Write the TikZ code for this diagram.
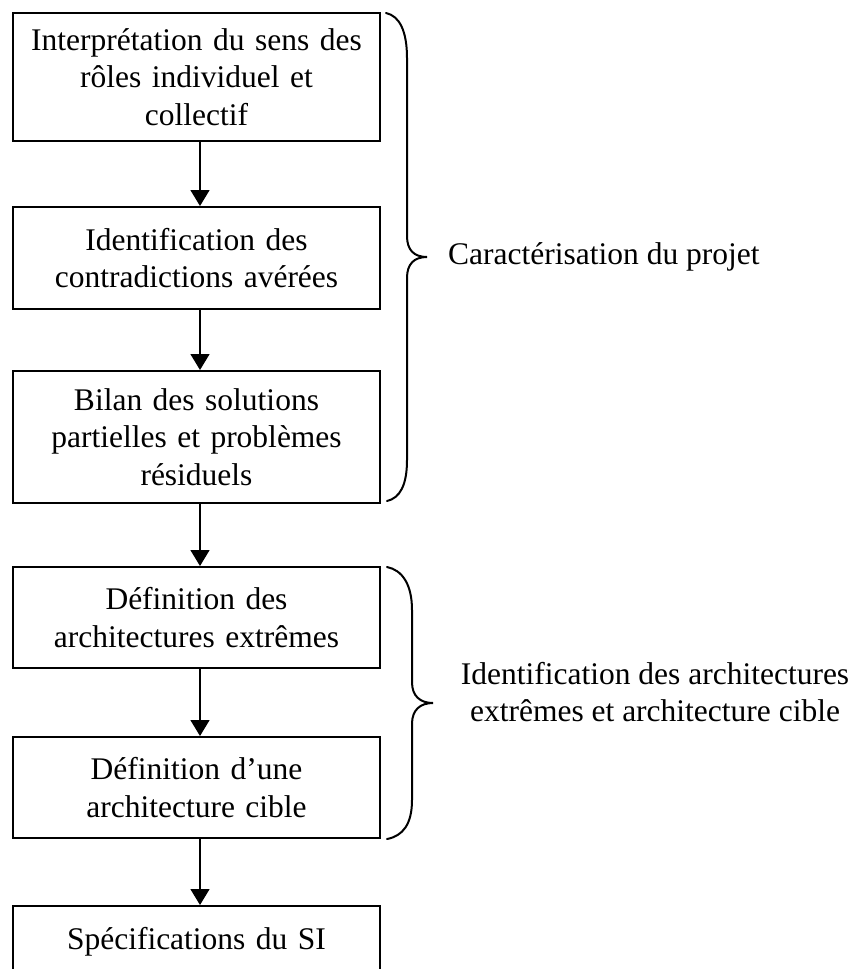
\documentclass[tikz,border=0pt]{standalone}
\usepackage{fontspec}
\setmainfont{Liberation Serif}
\usetikzlibrary{arrows.meta}
\begin{document}
\begin{tikzpicture}[x=1pt,y=-1pt,
  stepbox/.style={draw=black, line width=2pt, rectangle, minimum width=367pt,
    inner sep=0pt, text width=350pt, align=center,
    font=\fontsize{31.5}{37.5}\selectfont},
  conn/.style={line width=1.5pt, -{Triangle[width=19pt,length=16pt]}},
  bracepath/.style={line width=2pt, line cap=round},
  lbl/.style={inner sep=0pt, align=center, font=\fontsize{31.5}{37.5}\selectfont}]
\useasboundingbox (0,0) rectangle (854,969);
\clip (0,0) rectangle (854,969);
\fill[white] (0,0) rectangle (854,969);

\node[stepbox, minimum height=128pt] (n1) at (196.5,77)
  {Interprétation du sens des\\rôles individuel et\\collectif};
\node[stepbox, minimum height=102pt] (n2) at (196.5,258)
  {Identification des\\contradictions avérées};
\node[stepbox, minimum height=132pt] (n3) at (196.5,437)
  {Bilan des solutions\\partielles et problèmes\\résiduels};
\node[stepbox, minimum height=101pt] (n4) at (196.5,617.5)
  {Définition des\\architectures extrêmes};
\node[stepbox, minimum height=101pt] (n5) at (196.5,787.5)
  {Définition d’une\\architecture cible};
\node[stepbox, anchor=north, text height=43pt, text depth=80pt] (n6) at (196.5,905)
  {Spécifications du SI};

\foreach \a/\b in {n1/n2, n2/n3, n3/n4, n4/n5, n5/n6}
  \draw[conn] ([xshift=3.5pt]\a.south) -- ([xshift=3.5pt]\b.north);

% brace 1
\draw[bracepath] (386,13) .. controls (400,16) and (407,32) .. (407,58)
  -- (407,236) .. controls (407,250) and (414,257) .. (427,257)
  .. controls (414,257) and (407,264) .. (407,278)
  -- (407,460) .. controls (407,485) and (400,498) .. (387,501);
% brace 2
\draw[bracepath] (387,567) .. controls (402,570) and (412,584) .. (412,610)
  -- (412,682) .. controls (412,696) and (420,703) .. (433,703)
  .. controls (420,703) and (412,710) .. (412,724)
  -- (412,800) .. controls (412,824) and (403,836) .. (387,839);

\node[lbl, anchor=west] (l1) at (448,257) {Caractérisation du projet};
\node[lbl] (l2) at (655,692) {Identification des architectures\\extrêmes et architecture cible};
\end{tikzpicture}
\end{document}
